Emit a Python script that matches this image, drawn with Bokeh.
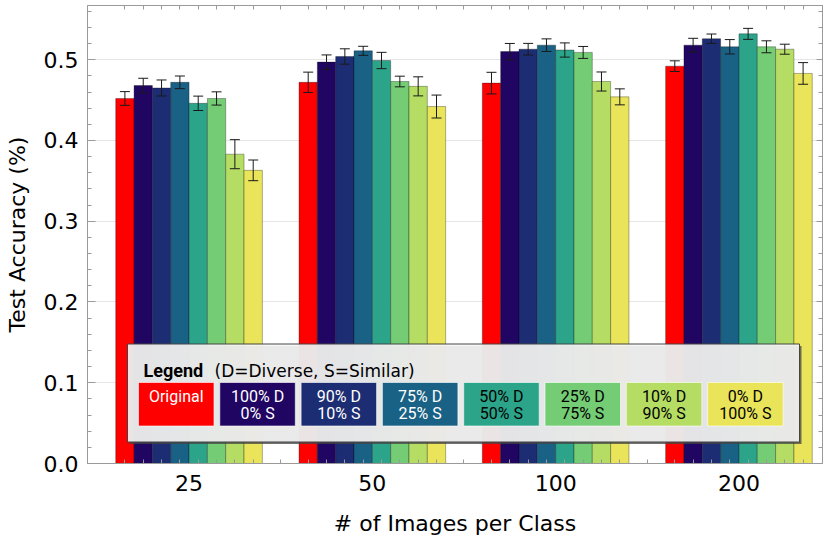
import numpy as np
from bokeh.plotting import figure
from bokeh.models import (Range1d, FixedTicker, SingleIntervalTicker, LinearAxis,
                          ColumnDataSource, Whisker, TeeHead, NumeralTickFormatter)
from bokeh.core.properties import value
from bokeh.embed import file_html
from bokeh.resources import INLINE

# ---------------- data ----------------
groups = ["25", "50", "100", "200"]
series_line1 = ["Original", "100% D", "90% D", "75% D", "50% D", "25% D", "10% D", "0% D"]
series_line2 = ["", "0% S", "10% S", "25% S", "50% S", "75% S", "90% S", "100% S"]
colors = ["#ff0000", "#200563", "#1c2d73", "#1a6186", "#2ca48a", "#74cc74", "#b5dd64", "#e9e459"]
text_colors = ["white", "white", "white", "white", "black", "black", "black", "black"]

acc_original = [0.452, 0.472, 0.471, 0.492]
acc_d100 = [0.468, 0.497, 0.510, 0.518]
acc_d90 = [0.465, 0.504, 0.513, 0.526]
acc_d75 = [0.472, 0.511, 0.518, 0.516]
acc_d50 = [0.446, 0.499, 0.512, 0.532]
acc_d25 = [0.452, 0.473, 0.509, 0.516]
acc_d10 = [0.383, 0.467, 0.473, 0.513]
acc_d0 = [0.363, 0.442, 0.454, 0.483]

err_original = [0.0085, 0.0126, 0.0134, 0.0066]
err_d100 = [0.0090, 0.0089, 0.0101, 0.0085]
err_d90 = [0.0099, 0.0095, 0.0072, 0.0058]
err_d75 = [0.0078, 0.0056, 0.0078, 0.0089]
err_d50 = [0.0089, 0.0101, 0.0088, 0.0068]
err_d25 = [0.0082, 0.0066, 0.0074, 0.0074]
err_d10 = [0.0180, 0.0118, 0.0118, 0.0062]
err_d0 = [0.0128, 0.0142, 0.0099, 0.0134]

accs = [acc_original, acc_d100, acc_d90, acc_d75, acc_d50, acc_d25, acc_d10, acc_d0]
errs = [err_original, err_d100, err_d90, err_d75, err_d50, err_d25, err_d10, err_d0]

# ---------------- layout ----------------
FW, FH = 735, 458              # frame size in px
BL, BR, BT, BB = 87, 1, 5, 74
PX_PER_GROUP = 183.3
PX_PER_UNIT_Y = 807.6
X0 = -0.554
X1 = X0 + FW / PX_PER_GROUP
Y0 = 0.0
Y1 = FH / PX_PER_UNIT_Y
bar_w = 0.1
n = len(series_line1)
AX = "#9a9a9a"
FONT = "DejaVu Sans"

p = figure(frame_width=FW, frame_height=FH, x_range=Range1d(X0, X1), y_range=Range1d(Y0, Y1),
           output_backend="svg", toolbar_location=None,
           min_border_left=BL, min_border_right=BR, min_border_top=BT, min_border_bottom=BB)
p.background_fill_color = "white"
p.border_fill_color = "white"
p.outline_line_color = AX
p.outline_line_width = 1

gx = np.arange(len(groups))
bar_centers = sorted([g + (k - (n - 1) / 2) * bar_w for g in gx for k in range(n)])
gap_mids = [g + 0.5 for g in gx[:-1]]

# bottom axis
xt = FixedTicker(ticks=list(gx), minor_ticks=bar_centers + gap_mids)
xa = p.xaxis[0]
xa.ticker = xt
xa.major_label_overrides = {int(g): lab for g, lab in zip(gx, groups)}
xa.axis_label = "# of Images per Class"
xa.axis_line_color = AX
xa.major_tick_in = 0
xa.major_tick_out = 0
xa.minor_tick_in = 4
xa.minor_tick_out = 0
xa.minor_tick_line_color = AX
xa.major_label_text_font = FONT
xa.major_label_text_font_size = "22px"
xa.major_label_text_color = "black"
xa.major_label_standoff = 11
xa.axis_label_text_font = FONT
xa.axis_label_text_font_size = "22px"
xa.axis_label_text_font_style = "normal"
xa.axis_label_text_color = "black"
xa.axis_label_standoff = 17

# top axis (ticks only)
top = LinearAxis(ticker=xt, axis_line_color=AX, major_tick_in=0, major_tick_out=0,
                 minor_tick_in=4, minor_tick_out=0, minor_tick_line_color=AX,
                 major_label_text_color=None, major_label_text_font_size="1px",
                 major_label_standoff=0)
p.add_layout(top, "above")

# left axis
yt = SingleIntervalTicker(interval=0.1, num_minor_ticks=5)
ya = p.yaxis[0]
ya.ticker = yt
ya.formatter = NumeralTickFormatter(format="0.0")
ya.axis_label = "Test Accuracy (%)"
ya.axis_line_color = AX
ya.major_tick_in = 8
ya.major_tick_out = 0
ya.minor_tick_in = 4
ya.minor_tick_out = 0
ya.major_tick_line_color = AX
ya.minor_tick_line_color = AX
ya.major_label_text_font = FONT
ya.major_label_text_font_size = "22px"
ya.major_label_text_color = "black"
ya.major_label_standoff = 9
ya.axis_label_text_font = FONT
ya.axis_label_text_font_size = "22px"
ya.axis_label_text_font_style = "normal"
ya.axis_label_text_color = "black"
ya.axis_label_standoff = 11

# right axis (ticks only)
right = LinearAxis(ticker=yt, axis_line_color=AX, major_tick_in=6, major_tick_out=0,
                   minor_tick_in=4, minor_tick_out=0, major_tick_line_color=AX,
                   minor_tick_line_color=AX,
                   major_label_text_color=None, major_label_text_font_size="1px",
                   major_label_standoff=0)
p.add_layout(right, "right")

p.xgrid.visible = False
p.ygrid.ticker = yt
p.ygrid.grid_line_color = "#e6e6e6"
p.ygrid.grid_line_width = 1

# bars + error bars
for k in range(n):
    xs = gx + (k - (n - 1) / 2) * bar_w
    top_v = np.array(accs[k])
    e = np.array(errs[k])
    src = ColumnDataSource(dict(x=xs, top=top_v, upper=top_v + e, lower=top_v - e))
    p.vbar(x="x", top="top", bottom=0, width=bar_w, source=src,
           fill_color=colors[k], line_color="black", line_alpha=0.3, line_width=1)
    wh = Whisker(source=src, base="x", upper="upper", lower="lower",
                 line_color="#1a1a1a", line_width=1, level="annotation",
                 upper_head=TeeHead(size=10, line_color="#1a1a1a", line_width=1),
                 lower_head=TeeHead(size=10, line_color="#1a1a1a", line_width=1))
    p.add_layout(wh)

# ---------------- legend (pixel offsets from frame bottom-left) ----------------
def dx(px):
    return X0 + px / PX_PER_GROUP
def dy(py):
    return Y0 + py / PX_PER_UNIT_Y

box_l, box_r, box_b, box_t = 40, 712, 21.5, 119.5
p.quad(left=[dx(box_l + 2)], right=[dx(box_r + 2)], bottom=[dy(box_b - 2)], top=[dy(box_t - 2)],
       fill_color="#444444", fill_alpha=0.75, line_color=None)
p.quad(left=[dx(box_l)], right=[dx(box_r)], bottom=[dy(box_b)], top=[dy(box_t)],
       fill_color="#f7f7f7", fill_alpha=0.9, line_color="#444444", line_width=1)

p.text(x=[dx(56)], y=[dy(93)], text=["Legend"], text_font=value("Roboto"),
       text_font_size=value("18px"), text_font_style="bold", text_color="black",
       text_align="left", text_baseline="alphabetic")
p.text(x=[dx(127)], y=[dy(93)], text=["(D=Diverse, S=Similar)"], text_font=value("DejaVu Sans"),
       text_font_size=value("17px"), text_color="black",
       text_align="left", text_baseline="alphabetic")

sw_w, sw_step, sw_l0 = 75.5, 81.3, 51
sw_b, sw_t = 37.5, 81
sl = [sw_l0 + i * sw_step for i in range(n)]
p.quad(left=[dx(v) for v in sl], right=[dx(v + sw_w) for v in sl],
       bottom=[dy(sw_b)] * n, top=[dy(sw_t)] * n,
       fill_color=colors, line_color="white", line_alpha=0.6, line_width=1)
cx = [dx(v + sw_w / 2) for v in sl]
p.text(x=cx, y=[dy(67)] * n, text=series_line1, text_font=value("Roboto"),
       text_font_size=value("16px"), text_color=text_colors,
       text_align="center", text_baseline="middle")
p.text(x=cx, y=[dy(49.7)] * n, text=series_line2, text_font=value("Roboto"),
       text_font_size=value("16px"), text_color=text_colors,
       text_align="center", text_baseline="middle")

open("out.html", "w").write(file_html(p, INLINE))
